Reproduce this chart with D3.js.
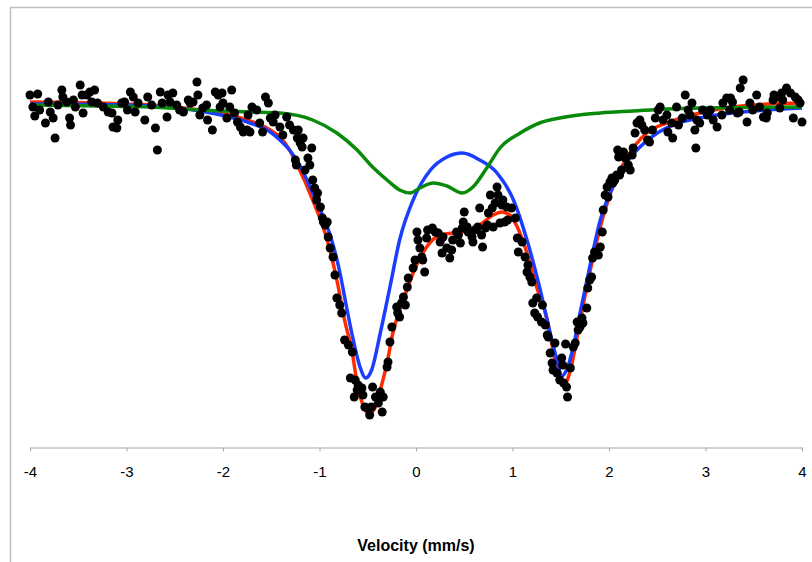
<!DOCTYPE html>
<html>
<head>
<meta charset="utf-8">
<script src="https://cdn.jsdelivr.net/npm/d3@7"></script>
<style>
  html, body { margin: 0; padding: 0; background: #fff; }
  svg { display: block; }
  text { font-family: "Liberation Sans", Arial, Helvetica, sans-serif; }
</style>
</head>
<body>
<svg id="chart" width="812" height="562"></svg>
<script>
// Mössbauer spectrum: measured transmission (%) vs. source velocity (mm/s)
const measured = [
  [-4.00,100.40],[-3.92,100.45],[-3.97,99.80],[-3.95,99.35],[-3.90,99.65],[-3.84,99.00],[-3.81,100.05],
  [-3.79,99.55],[-3.76,99.25],[-3.74,98.25],[-3.71,99.90],[-3.67,100.65],[-3.66,100.30],[-3.62,100.05],
  [-3.59,99.25],[-3.58,98.90],[-3.55,100.15],[-3.53,99.80],[-3.48,100.90],[-3.46,100.40],[-3.45,99.50],
  [-3.41,100.40],[-3.38,100.55],[-3.36,100.05],[-3.33,100.65],[-3.30,100.00],[-3.24,99.80],[-3.19,99.55],
  [-3.15,99.50],[-3.14,98.80],[-3.10,98.75],[-3.09,99.15],[-3.05,100.00],[-3.02,100.05],[-2.99,99.65],
  [-2.96,100.55],[-2.93,100.30],[-2.91,99.55],[-2.88,100.00],[-2.81,99.15],[-2.78,100.30],[-2.74,99.90],
  [-2.70,98.75],[-2.68,97.65],[-2.65,100.55],[-2.63,100.00],[-2.58,99.30],
  [-2.57,100.40],[-2.52,100.50],[-2.55,100.05],[-2.48,99.90],[-2.45,99.65],[-2.41,99.55],[-2.36,100.15],
  [-2.34,100.00],[-2.31,100.05],[-2.27,101.05],[-2.26,100.40],[-2.24,99.40],[-2.21,99.75],[-2.17,99.90],
  [-2.16,99.15],[-2.11,98.65],[-2.08,100.55],[-2.05,100.40],[-2.01,100.50],[-2.00,100.00],[-2.03,99.80],
  [-1.96,99.25],[-1.93,99.80],[-1.91,100.65],[-1.88,99.50],[-1.85,99.05],[-1.82,98.80],[-1.79,98.55],
  [-1.75,98.65],[-1.72,98.55],[-1.74,99.40],[-1.70,99.80],[-1.65,99.65],[-1.62,99.00],[-1.59,98.55],
  [-1.56,100.30],[-1.53,100.00],[-1.51,99.25],[-1.48,99.05],[-1.46,99.40],[-1.41,98.80],[-1.38,98.40],
  [-1.34,99.30],[-1.31,98.90],[-1.27,98.65],[-1.23,98.25],[-1.20,98.00],[-1.22,98.65],[-1.17,98.25],
  [-1.18,97.80],[-1.08,97.75],[-1.25,97.15],[-1.24,96.90],[-1.12,97.25],[-1.10,96.90],[-1.15,96.65],
  [-1.07,96.15],
  [-1.05,95.75],[-1.02,95.50],[-1.03,95.15],[-0.99,94.80],[-0.97,94.25],[-0.96,94.05],[-0.92,94.05],
  [-0.94,93.90],[-0.91,93.30],[-0.89,92.75],[-0.86,92.30],[-0.84,91.40],[-0.82,90.25],[-0.79,89.90],
  [-0.77,89.50],[-0.74,88.15],[-0.70,87.90],[-0.66,87.55],[-0.68,86.25],[-0.63,86.15],[-0.60,85.90],
  [-0.61,85.65],[-0.56,85.75],[-0.64,85.30],[-0.55,85.40],[-0.53,84.80],[-0.50,84.75],[-0.48,84.40],
  [-0.46,84.80],[-0.45,85.80],[-0.42,85.30],[-0.37,85.55],[-0.39,85.00],[-0.35,84.55],[-0.34,85.30],
  [-0.30,86.80],[-0.29,87.05],[-0.27,88.05],[-0.25,88.80],[-0.20,89.80],[-0.17,89.30],[-0.19,89.50],
  [-0.15,90.00],[-0.11,89.90],[-0.13,90.30],[-0.09,90.80],[-0.08,91.25],[-0.03,91.75],[-0.01,92.15],
  [0.01,93.55],[0.02,93.15],[0.04,92.75],[0.06,92.30],[0.07,92.15],[0.09,91.55],[0.11,93.25],[0.12,93.65],
  [0.17,93.75],[0.20,93.55],[0.23,93.50],[0.25,93.05],[0.28,93.30],[0.27,92.50],[0.32,92.75],[0.35,92.25],
  [0.37,92.65],[0.38,93.15],[0.42,93.55],[0.44,93.40],[0.46,93.00],[0.48,93.75],[0.49,94.05],[0.50,94.55],
  [0.53,93.80],[0.54,93.55],[0.58,93.30],[0.59,93.05],[0.61,93.65],[0.64,93.80],[0.66,94.75],[0.68,93.40],
  [0.69,92.80],[0.72,93.75],[0.74,93.90],[0.75,94.50],[0.77,95.40],[0.79,94.75],[0.80,93.80],[0.82,95.00],
  [0.84,95.80],[0.85,95.40],[0.87,94.00],[0.89,94.90],[0.90,95.15],[0.92,94.05],[0.94,94.80],[0.95,94.15],
  [0.99,94.75],[1.03,94.25],[1.05,93.25],[1.06,92.55],[1.10,93.05],[1.13,92.30],[1.16,91.90],[1.15,91.55],
  [1.18,91.30],[1.20,91.05],[1.21,90.00],[1.25,90.25],[1.31,89.90],[1.23,89.50],[1.26,89.30],[1.30,89.05],
  [1.34,88.90],[1.36,88.40],[1.37,88.30],[1.39,87.50],[1.41,87.00],[1.42,86.65],[1.44,88.00],[1.51,87.25],
  [1.52,86.90],[1.46,86.50],[1.49,86.15],[1.53,86.00],[1.56,85.80],[1.57,85.30],[1.55,87.95],
  [1.60,86.75],[1.63,87.80],[1.65,88.00],[1.67,89.05],[1.70,88.80],[1.68,88.65],[1.72,89.25],[1.73,89.00],
  [1.77,89.75],[1.78,90.75],[1.80,91.15],[1.82,91.30],[1.83,92.25],[1.85,92.55],[1.89,92.40],[1.91,92.80],
  [1.93,93.55],[1.94,94.65],[1.96,95.40],[1.98,95.80],[1.99,95.30],[2.01,96.05],[2.03,96.25],[2.04,96.00],
  [2.06,96.15],[2.08,96.40],[2.11,96.40],[2.13,96.65],[2.09,97.65],[2.10,97.30],[2.15,97.55],[2.17,97.25],
  [2.20,96.90],[2.22,96.65],[2.24,97.40],[2.25,97.75],[2.27,98.50],[2.29,99.00],[2.32,99.15],[2.34,98.90],
  [2.37,98.65],[2.40,98.15],[2.42,98.05],[2.45,98.65],[2.48,99.25],[2.51,99.65],[2.53,99.80],[2.56,99.15],
  [2.60,99.40],[2.61,98.55],[2.65,99.00],[2.66,98.25],[2.70,99.80],[2.72,98.90],[2.76,99.25],[2.79,100.40],
  [2.82,99.65],[2.84,99.40],[2.86,100.00],[2.89,98.65],[2.90,97.75],[2.91,99.15],
  [2.94,99.00],[2.97,99.65],[3.02,99.40],[3.05,99.65],[3.08,99.15],[3.12,98.80],[3.17,99.40],[3.18,100.00],
  [3.22,100.25],[3.25,99.65],[3.26,100.25],[3.28,100.05],[3.33,99.50],[3.36,100.75],[3.35,99.55],[3.39,101.15],
  [3.43,99.05],[3.46,100.00],[3.49,99.65],[3.53,100.40],[3.56,99.80],[3.60,99.30],[3.64,99.50],[3.63,99.25],
  [3.70,100.15],[3.71,100.40],[3.74,100.30],[3.77,99.75],[3.79,100.50],[3.80,100.15],[3.84,100.75],[3.88,100.50],
  [3.93,100.30],[3.96,100.15],[3.91,99.25],[4.00,99.05],[3.98,100.00]
];

// Fitted envelope (sum of components)
const fitTotal = [
  [-4.00,100.05],[-3.27,100.00],[-2.76,99.90],[-2.24,99.65],[-1.93,99.40],[-1.72,99.10],[-1.51,98.65],
  [-1.41,98.30],[-1.31,97.65],[-1.23,96.90],[-1.07,95.15],[-0.92,93.15],[-0.82,91.15],[-0.74,89.15],
  [-0.66,87.50],[-0.61,86.00],[-0.55,84.90],[-0.49,84.45],[-0.42,84.80],[-0.37,85.65],[-0.30,87.00],
  [-0.24,88.50],[-0.13,90.15],[-0.03,91.50],[0.11,92.80],[0.25,93.40],[0.38,93.50],[0.53,93.60],
  [0.66,93.90],[0.80,94.40],[0.89,94.55],[0.97,94.40],[1.05,93.80],[1.15,92.50],[1.25,90.80],
  [1.36,89.15],[1.44,87.15],[1.49,86.30],[1.54,85.95],[1.60,86.65],[1.67,88.30],[1.77,90.80],
  [1.91,93.80],[2.04,95.80],[2.19,97.30],[2.39,98.50],[2.60,99.00],[2.94,99.50],[3.28,99.80],
  [3.64,99.95],[4.00,100.00]
];

// Component 1 (blue doublet)
const site1 = [
  [-4.00,99.95],[-3.27,99.93],[-2.76,99.85],[-2.24,99.60],[-1.93,99.30],[-1.72,99.00],[-1.51,98.55],
  [-1.41,98.15],[-1.31,97.65],[-1.20,96.85],[-1.07,95.50],[-0.97,94.40],[-0.89,93.40],[-0.79,91.55],
  [-0.72,89.80],[-0.65,88.15],[-0.58,86.80],[-0.52,86.25],[-0.46,86.65],[-0.37,88.50],[-0.27,90.80],
  [-0.17,93.15],[-0.03,95.15],[0.15,96.65],[0.32,97.30],[0.48,97.50],[0.66,97.15],[0.84,96.50],
  [1.01,95.15],[1.15,93.15],[1.28,90.80],[1.39,88.50],[1.46,87.15],[1.51,86.35],[1.56,86.65],
  [1.63,87.80],[1.70,89.50],[1.80,91.80],[1.91,94.15],[2.01,95.50],[2.15,96.80],[2.32,97.80],
  [2.50,98.50],[2.66,98.90],[2.94,99.25],[3.28,99.50],[3.64,99.65],[4.00,99.75]
];

// Component 2 (green doublet)
const site2 = [
  [-4.00,99.90],[-3.27,99.85],[-2.76,99.80],[-2.24,99.65],[-1.72,99.55],[-1.41,99.50],[-1.07,99.15],
  [-0.82,98.50],[-0.61,97.65],[-0.45,96.80],[-0.30,96.15],[-0.17,95.65],[-0.06,95.50],[0.04,95.75],
  [0.18,96.00],[0.32,95.85],[0.48,95.50],[0.59,95.80],[0.74,96.80],[0.87,97.75],[1.08,98.50],
  [1.28,99.00],[1.49,99.25],[1.91,99.50],[2.25,99.60],[2.60,99.70],[2.94,99.75],[4.00,99.80]
];

const xTicks = [-4, -3, -2, -1, 0, 1, 2, 3, 4];
const xTitle = "Velocity (mm/s)";

const svg = d3.select("#chart");

const x = d3.scaleLinear().domain([-4, 4]).range([30, 802]);
const y = d3.scaleLinear().domain([82.8, 104.8]).range([447, 7]);

// outer frame (left and top edges)
svg.append("path")
  .attr("d", "M10.5,562 L10.5,7.5 L812,7.5")
  .attr("fill", "none")
  .attr("stroke", "#c0c0c0")
  .attr("stroke-width", 1.5);

// x axis
const axis = svg.append("g")
  .attr("transform", "translate(0,447.5)")
  .call(d3.axisBottom(x).tickValues(xTicks).tickSize(4).tickSizeOuter(0)
    .tickPadding(15).tickFormat(d => String(d)));
axis.select(".domain").attr("stroke", "#a6a6a6");
axis.selectAll(".tick line").attr("stroke", "#a6a6a6");
axis.selectAll(".tick text")
  .attr("fill", "#000")
  .style("font-size", "15px")
  .style("font-family", '"Liberation Sans", Arial, sans-serif');

svg.append("text")
  .attr("x", 416).attr("y", 551)
  .attr("text-anchor", "middle")
  .style("font-size", "16px")
  .style("font-weight", "bold")
  .text(xTitle);

const line = d3.line()
  .x(d => x(d[0]))
  .y(d => y(d[1]))
  .curve(d3.curveMonotoneX);

const curves = [
  { data: fitTotal, color: "#ff2a00" },
  { data: site1, color: "#1a3dff" },
  { data: site2, color: "#0a8a0a" }
];
svg.append("g").selectAll("path")
  .data(curves)
  .join("path")
  .attr("d", c => line(c.data))
  .attr("fill", "none")
  .attr("stroke", c => c.color)
  .attr("stroke-width", 3.5)
  .attr("stroke-linejoin", "round");

svg.append("g").selectAll("circle")
  .data(measured)
  .join("circle")
  .attr("cx", d => x(d[0]))
  .attr("cy", d => y(d[1]))
  .attr("r", 4.5)
  .attr("fill", "#000");
</script>
</body>
</html>
